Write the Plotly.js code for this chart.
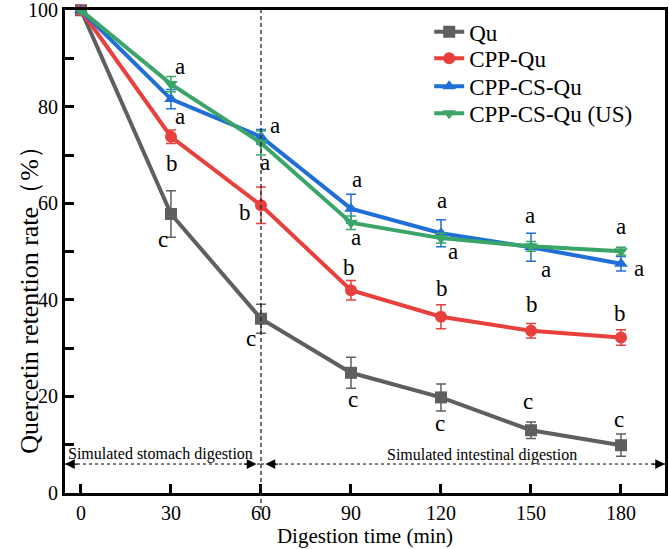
<!DOCTYPE html>
<html>
<head>
<meta charset="utf-8">
<script src="https://cdn.plot.ly/plotly-3.0.1.min.js"></script>
<style>html,body{margin:0;padding:0;background:#fff;}#chart{width:669px;height:549px;}</style>
</head>
<body>
<div id="chart"></div>
<script>
// ---- data ----
const timeMin = [0, 30, 60, 90, 120, 150, 180];
const seriesNames = ['Qu', 'CPP-Qu', 'CPP-CS-Qu', 'CPP-CS-Qu (US)'];
const quVals = [100, 57.8, 36.1, 24.9, 19.8, 13.0, 9.9];
const quErr = [0, 4.8, 3.0, 3.2, 2.8, 1.7, 2.3];
const cppVals = [100, 73.8, 59.6, 42.0, 36.5, 33.6, 32.2];
const cppErr = [0, 1.4, 3.8, 2.0, 2.5, 1.5, 1.6];
const csVals = [100, 81.6, 73.8, 58.9, 53.8, 50.9, 47.5];
const csErr = [0, 2.0, 1.5, 3.0, 2.8, 2.9, 1.5];
const usVals = [100, 84.7, 72.5, 56.0, 52.8, 51.1, 50.1];
const usErr = [0, 1.6, 2.5, 1.4, 1.0, 1.0, 0.8];
const quLetters = ['', 'c', 'c', 'c', 'c', 'c', 'c'];
const cppLetters = ['', 'b', 'b', 'b', 'b', 'b', 'b'];
const csLetters = ['', 'a', 'a', 'a', 'a', 'a', 'a'];
const usLetters = ['', 'a', 'a', 'a', 'a', 'a', 'a'];
const phaseLabels = ['Simulated stomach digestion', 'Simulated intestinal digestion'];
const phaseBounds = [0, 60, 180];
const xTicks = [0, 30, 60, 90, 120, 150, 180];
const yTicks = [0, 20, 40, 60, 80, 100];
const xTitle = 'Digestion time (min)';
const yTitle = 'Quercetin retention rate（%）';

// ---- styles ----
const SERIF = 'Liberation Serif';
const colors = ['#5f5f5f', '#e8403c', '#1f6fd6', '#3aa469'];
const symbols = ['square', 'circle', 'triangle-up', 'triangle-down'];
const allVals = [quVals, cppVals, csVals, usVals];
const allErr = [quErr, cppErr, csErr, usErr];
const allLetters = [quLetters, cppLetters, csLetters, usLetters];
const legendIds = ['legend', 'legend2', 'legend3', 'legend4'];
const legendY = [0.955, 0.900, 0.842, 0.786];
// pixel offsets of the significance letters [dx, dy(down +)]
const letterOffsets = [
  [null, [-8, 26], [-10, 20], [2, 27], [-1, 26], [-3, -29], [-2, -26]],
  [null, [1, 27], [-16, 7], [-2, -23], [1, -28], [1, -26], [-1, -24]],
  [null, [9, 17], [14, -11], [6, -29], [1, -33], [-1, -32], [18, 5]],
  [null, [9, -18], [4, 19], [5, 15], [12, 13], [15, 23], [0, -25]]
];

const traces = allVals.map((vals, i) => ({
  x: timeMin, y: vals, name: seriesNames[i], type: 'scatter', mode: 'lines+markers',
  legend: legendIds[i],
  line: {color: colors[i], width: 4},
  marker: {symbol: symbols[i], size: 12, color: colors[i]},
  error_y: {type: 'data', array: allErr[i], visible: true, color: colors[i], thickness: 1.5, width: 5},
  cliponaxis: false
}));

const annotations = [];
allLetters.forEach((lets, i) => {
  lets.forEach((t, j) => {
    if (!t) return;
    const off = letterOffsets[i][j];
    annotations.push({x: timeMin[j], y: allVals[i][j], xref: 'x', yref: 'y', text: t, showarrow: false,
      xshift: off[0], yshift: -off[1], font: {family: SERIF, size: 23, color: '#000'}});
  });
});
const xLeft = -5.33, xRight = 194.67, arrowY = 6;
// phase labels
annotations.push({x: 26.5, y: arrowY, xref: 'x', yref: 'y', text: phaseLabels[0], showarrow: false, yshift: 10, font: {family: SERIF, size: 16, color: '#000'}});
annotations.push({x: 133.7, y: arrowY, xref: 'x', yref: 'y', text: phaseLabels[1], showarrow: false, yshift: 9, font: {family: SERIF, size: 16, color: '#000'}});
// arrowheads
const heads = [[xLeft, 14], [phaseBounds[1] - 1.5, -14], [phaseBounds[1] + 1.5, 14], [xRight, -14]];
heads.forEach(h => annotations.push({x: h[0], y: arrowY, xref: 'x', yref: 'y', ax: h[1], ay: 0, text: '', showarrow: true,
  arrowhead: 2, arrowsize: 1.5, arrowwidth: 1.3, arrowcolor: '#000'}));
// y-axis title (placed as in the reference, offset below the axis centre)
annotations.push({x: -0.088, y: 0.414, xref: 'paper', yref: 'paper', text: yTitle, textangle: -90, showarrow: false,
  font: {family: SERIF, size: 26, color: '#000'}});

const shapes = [
  {type: 'line', xref: 'x', yref: 'paper', x0: phaseBounds[1], x1: phaseBounds[1], y0: -0.035, y1: 1, line: {color: '#222', width: 1.3, dash: '4px,3px'}},
  {type: 'line', xref: 'x', yref: 'y', x0: xLeft, x1: phaseBounds[1], y0: arrowY, y1: arrowY, line: {color: '#000', width: 1, dash: 'dot'}},
  {type: 'line', xref: 'x', yref: 'y', x0: phaseBounds[1], x1: xRight, y0: arrowY, y1: arrowY, line: {color: '#000', width: 1, dash: 'dot'}}
];

const layout = {
  width: 669, height: 549,
  margin: {l: 65, r: 4, t: 10, b: 56},
  paper_bgcolor: '#fff', plot_bgcolor: '#fff',
  font: {family: SERIF, color: '#000'},
  showlegend: true,
  xaxis: {range: [xLeft, xRight], tickvals: xTicks, ticks: 'inside', ticklen: 9, tickwidth: 3, tickcolor: '#000',
    showline: true, linewidth: 3, linecolor: '#000', mirror: true, showgrid: false, zeroline: false,
    tickfont: {family: SERIF, size: 20, color: '#000'}, ticklabeloverflow: 'allow',
    title: {text: xTitle, font: {family: SERIF, size: 21, color: '#000'}, standoff: 6}},
  yaxis: {range: [0, 100.05], tickvals: yTicks, ticks: 'inside', ticklen: 9, tickwidth: 3, tickcolor: '#000',
    minor: {dtick: 10, ticks: 'inside', ticklen: 9, tickwidth: 3, tickcolor: '#000'},
    showline: true, linewidth: 3, linecolor: '#000', mirror: true, showgrid: false, zeroline: false,
    tickfont: {family: SERIF, size: 20, color: '#000'}, ticklabeloverflow: 'allow'},
  annotations: annotations,
  shapes: shapes
};
legendIds.forEach((id, i) => {
  layout[id] = {x: 0.607, y: legendY[i], xanchor: 'left', yanchor: 'middle', bgcolor: 'rgba(0,0,0,0)',
    font: {family: SERIF, size: 23, color: '#000'}};
});

Plotly.newPlot('chart', traces, layout, {displayModeBar: false, staticPlot: true});
</script>
</body>
</html>
